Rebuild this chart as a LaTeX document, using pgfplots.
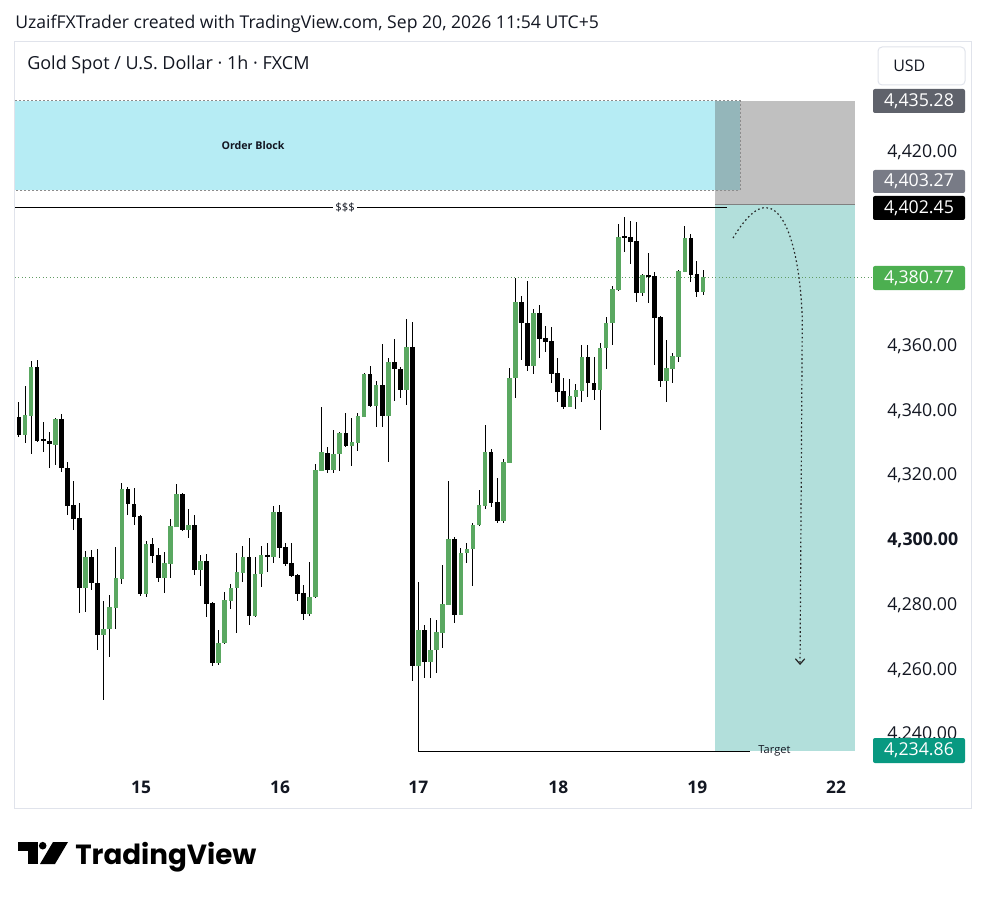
\documentclass[border=0pt]{standalone}
\usepackage{fontspec}
\setmainfont{Open Sans}
\newfontfamily\logofont{Poppins}
\usepackage{pgfplots}
\pgfplotsset{compat=1.18}
\usepackage{pgfplotstable}
\usetikzlibrary{arrows.meta}

\definecolor{cgreen}{RGB}{90,168,97}
\definecolor{obcyan}{RGB}{182,236,244}
\definecolor{tgteal}{RGB}{178,223,219}
\definecolor{stopgray}{RGB}{192,192,192}
\definecolor{overlapc}{RGB}{148,182,186}
\definecolor{tvtext}{RGB}{19,23,34}
\definecolor{lbldark}{RGB}{95,98,107}
\definecolor{lblgray}{RGB}{120,123,134}
\definecolor{lblgreen}{RGB}{76,175,80}
\definecolor{lblteal}{RGB}{8,153,129}
\definecolor{framec}{RGB}{224,227,235}

\pgfplotstableread{
i o h l c
1 4337.6 4342.2 4331.2 4331.9
2 4331.9 4347.0 4329.3 4338.1
3 4337.9 4354.8 4325.9 4353.0
4 4353.0 4355.1 4329.8 4330.1
5 4330.6 4336.0 4326.8 4330.1
6 4330.1 4332.9 4321.6 4329.0
7 4328.8 4337.3 4322.6 4336.9
8 4336.9 4338.3 4320.6 4321.6
9 4321.6 4323.7 4307.2 4310.0
10 4310.2 4317.7 4302.5 4306.1
11 4306.1 4311.0 4276.9 4284.7
12 4284.7 4296.0 4277.3 4294.1
13 4294.1 4296.3 4284.0 4286.3
14 4286.3 4296.8 4265.4 4270.1
15 4270.1 4280.7 4250.0 4271.8
16 4271.8 4282.4 4263.3 4278.8
17 4278.5 4297.4 4272.1 4287.6
18 4287.3 4317.0 4286.0 4315.2
19 4315.2 4315.9 4307.2 4310.5
20 4310.6 4315.4 4304.1 4306.7
21 4306.9 4307.2 4282.1 4282.7
22 4282.7 4299.1 4281.9 4298.2
23 4298.2 4300.0 4292.3 4294.6
24 4294.8 4296.9 4286.6 4287.6
25 4287.6 4295.8 4283.0 4292.2
26 4292.0 4305.8 4287.6 4303.8
27 4303.6 4316.8 4303.4 4313.7
28 4313.7 4313.9 4302.3 4302.5
29 4302.5 4308.9 4300.0 4304.1
30 4304.1 4307.2 4288.6 4290.2
31 4290.2 4294.8 4285.2 4293.1
32 4293.1 4295.0 4275.7 4279.7
33 4280.1 4280.2 4260.6 4261.3
34 4261.3 4271.6 4260.8 4267.7
35 4267.5 4283.3 4267.3 4280.9
36 4280.7 4286.0 4278.0 4284.7
37 4284.5 4295.3 4270.6 4289.7
38 4289.3 4297.6 4286.6 4294.3
39 4294.3 4300.2 4273.2 4275.9
40 4275.9 4294.3 4275.7 4288.9
41 4288.8 4297.6 4285.0 4294.8
42 4294.8 4298.4 4289.7 4294.4
43 4294.3 4310.0 4292.4 4308.0
44 4308.0 4310.3 4293.8 4297.1
45 4297.2 4298.4 4291.4 4292.0
46 4292.2 4298.4 4287.9 4288.3
47 4288.6 4288.8 4280.6 4282.8
48 4283.0 4285.5 4274.7 4276.6
49 4276.6 4292.7 4275.9 4281.7
50 4281.7 4323.0 4281.4 4321.1
51 4320.9 4340.7 4320.9 4326.5
52 4326.5 4328.1 4320.3 4321.1
53 4321.1 4333.4 4320.3 4326.0
54 4325.9 4332.7 4320.9 4332.4
55 4332.6 4338.8 4328.1 4328.6
56 4328.6 4337.3 4322.3 4329.8
57 4329.5 4338.8 4327.0 4337.8
58 4337.6 4351.2 4337.4 4350.7
59 4350.7 4353.2 4340.7 4340.9
60 4340.9 4348.7 4334.3 4347.4
61 4347.4 4360.0 4334.5 4337.8
62 4337.8 4355.6 4323.6 4354.6
63 4354.6 4361.5 4342.5 4352.2
64 4352.2 4352.8 4343.5 4345.8
65 4345.8 4367.7 4341.2 4359.2
66 4359.2 4366.9 4255.9 4260.5
67 4260.5 4286.6 4256.0 4271.6
68 4271.6 4273.2 4256.7 4261.8
69 4261.8 4275.2 4256.7 4265.6
70 4265.5 4274.7 4258.2 4271.1
71 4270.8 4291.7 4266.0 4279.7
72 4279.4 4317.8 4279.4 4299.9
73 4299.9 4300.5 4273.7 4276.3
74 4276.3 4296.9 4276.3 4295.3
75 4295.3 4298.4 4292.4 4296.7
76 4296.6 4304.6 4285.2 4304.1
77 4304.1 4314.9 4303.8 4310.3
78 4310.0 4335.0 4308.9 4326.8
79 4326.8 4327.5 4309.8 4311.0
80 4311.3 4318.5 4304.6 4305.4
81 4305.4 4324.4 4304.6 4323.5
82 4323.4 4352.5 4323.2 4349.6
83 4349.4 4380.3 4343.2 4373.1
84 4373.1 4374.9 4355.1 4366.4
85 4366.6 4379.6 4351.8 4353.2
86 4353.2 4370.8 4350.8 4369.7
87 4369.7 4372.1 4355.6 4361.6
88 4361.8 4365.6 4357.7 4360.8
89 4361.1 4365.2 4348.1 4350.8
90 4351.0 4355.6 4342.2 4345.3
91 4345.6 4349.4 4340.1 4340.7
92 4340.7 4349.1 4340.7 4343.9
93 4343.8 4347.6 4339.8 4345.8
94 4345.6 4359.7 4342.2 4355.9
95 4355.9 4359.7 4343.8 4347.9
96 4347.9 4356.1 4342.7 4345.8
97 4345.8 4360.2 4333.5 4358.7
98 4358.7 4368.5 4352.2 4366.4
99 4366.4 4377.9 4359.7 4377.0
100 4376.7 4397.1 4376.5 4393.2
101 4393.2 4399.4 4388.6 4393.0
102 4393.2 4398.2 4384.8 4391.7
103 4391.9 4397.6 4373.1 4375.9
104 4375.9 4381.7 4374.9 4381.3
105 4381.3 4388.1 4372.6 4381.1
106 4381.0 4382.4 4353.5 4368.2
107 4368.5 4368.7 4346.8 4348.7
108 4348.7 4361.3 4342.2 4352.5
109 4352.2 4357.1 4347.9 4356.3
110 4356.1 4382.9 4354.6 4382.7
111 4382.4 4396.5 4382.4 4392.9
112 4392.9 4394.0 4379.3 4381.3
113 4381.7 4385.8 4374.7 4376.2
114 4376.2 4382.9 4375.2 4380.77
}\candles

\begin{document}
\begin{tikzpicture}
\useasboundingbox (0,0) rectangle (740.25pt,-673.5pt);
\fill[white] (0,0) rectangle (740.25pt,-673.5pt);
\begin{scope}[x=0.75pt,y=-0.75pt]
  \draw[framec, line width=0.75pt] (14,42) rectangle (971,808);
  \node[anchor=base west, inner sep=0pt, text=tvtext, font=\fontsize{13.2}{14}\selectfont] at (15,29) {UzaifFXTrader created with TradingView.com, Sep 20, 2026 11:54 UTC+5};
\end{scope}
\begin{axis}[
  at={(11.25pt,-577.5pt)}, anchor=south west,
  scale only axis, width=642.75pt, height=546pt,
  xmin=0.34, xmax=141.92, ymin=4228.35, ymax=4453.38,
  axis line style={draw=none}, tick style={draw=none}, major tick length=0pt,
  xtick={21.16,44.13,66.97,90.10,113.06,135.97},
  xticklabels={15,16,17,18,19,22},
  xticklabel style={anchor=center, yshift=-12.75pt, text=tvtext, font=\fontsize{13}{13}\selectfont\bfseries},
  ytick={4240,4260,4280,4300,4320,4340,4360,4420},
  yticklabels={{4,240.00},{4,260.00},{4,280.00},{\textbf{4,300.00}},{4,320.00},{4,340.00},{4,360.00},{4,420.00}},
  yticklabel pos=right,
  yticklabel style={anchor=west, inner sep=0pt, xshift=11.25pt, yshift=-1.6pt, text=tvtext, font=\fontsize{13.3}{13.3}\selectfont},
]
% order block
\fill[obcyan] (axis cs:0.34,4407.6) rectangle (axis cs:120.1,4435.28);
% stop zone and target zone
\fill[stopgray] (axis cs:115.99,4403.27) rectangle (axis cs:139.11,4435.28);
\fill[overlapc] (axis cs:115.99,4407.6) rectangle (axis cs:120.1,4435.28);
\fill[tgteal] (axis cs:115.99,4234.2) rectangle (axis cs:139.11,4403.27);
\draw[black!45, dash pattern=on 1.5pt off 1.5pt, line width=0.5pt] (axis cs:0.34,4435.28) -- (axis cs:120.1,4435.28) -- (axis cs:120.1,4407.6) -- (axis cs:0.34,4407.6);
\draw[black!50, line width=0.75pt] (axis cs:115.99,4403.27) -- (axis cs:139.11,4403.27);
\node[font=\fontsize{8}{9}\selectfont\bfseries, text=tvtext] at (axis cs:39.66,4421.3) {Order Block};
% liquidity line
\draw[black, line width=0.75pt] (axis cs:0.34,4402.3) -- (axis cs:117.9,4402.3);
\node[fill=white, inner sep=1.5pt, font=\fontsize{8.5}{9}\selectfont, text=tvtext] at (axis cs:54.86,4402.3) {\$\$\$};
% current price line
\draw[lblgreen!60!gray, dotted, line width=0.6pt] (axis cs:0.34,4380.77) -- (axis cs:141.92,4380.77);
% target line
\draw[black, line width=0.75pt] (axis cs:66.97,4258) -- (axis cs:66.97,4234.2) -- (axis cs:121.77,4234.2);
\node[font=\fontsize{8.3}{9}\selectfont, text=tvtext] at (axis cs:125.8,4234.2) {Target};
% wicks
\addplot[draw=none, mark=none, forget plot, error bars/.cd, y dir=both, y explicit, error mark=none,
  error bar style={line width=0.75pt, black}]
  table[x=i, y expr={(\thisrow{h}+\thisrow{l})/2}, y error expr={(\thisrow{h}-\thisrow{l})/2}] {\candles};
% bullish bodies
\addplot[draw=none, mark=none, forget plot, restrict expr to domain={\thisrow{c}-\thisrow{o}}{0.0001:1000},
  error bars/.cd, y dir=both, y explicit, error mark=none,
  error bar style={line width=3.5pt, cgreen}]
  table[x=i, y expr={(\thisrow{o}+\thisrow{c})/2}, y error expr={max(abs(\thisrow{c}-\thisrow{o})/2,0.3)}] {\candles};
% bearish bodies
\addplot[draw=none, mark=none, forget plot, restrict expr to domain={\thisrow{c}-\thisrow{o}}{-1000:0},
  error bars/.cd, y dir=both, y explicit, error mark=none,
  error bar style={line width=3.5pt, black}]
  table[x=i, y expr={(\thisrow{o}+\thisrow{c})/2}, y error expr={max(abs(\thisrow{c}-\thisrow{o})/2,0.3)}] {\candles};
% projected path
\draw[black!85, line width=0.9pt, dash pattern=on 1.2pt off 2pt, -{Straight Barb[length=4pt,width=7pt]}]
  (axis cs:118.96,4392.80) .. controls (axis cs:120.94,4398.98) and (axis cs:123.09,4403.00) .. (axis cs:124.74,4402.07)
  .. controls (axis cs:127.55,4401.45) and (axis cs:130.03,4389.09) .. (axis cs:130.40,4367.45) -- (axis cs:130.03,4260.80);
\end{axis}
\begin{scope}[x=0.75pt,y=-0.75pt]
  \node[anchor=base west, inner sep=0pt, text=tvtext, font=\fontsize{13.5}{14}\selectfont] at (27,70) {Gold Spot / U.S. Dollar · 1h · FXCM};
  \draw[framec, fill=white, rounded corners=3pt, line width=0.75pt] (878,47) rectangle (965,85);
  \node[anchor=base west, inner sep=0pt, text=tvtext, font=\fontsize{12}{12}\selectfont] at (893,72) {USD};
  \tikzset{plabel/.style={anchor=center, inner sep=0pt, text=white, font=\fontsize{13.3}{13.3}\selectfont}}
  \fill[lbldark, rounded corners=1.5pt] (873,89) rectangle (965,113);
  \node[plabel] at (919,101) {4,435.28};
  \fill[lblgray, rounded corners=1.5pt] (873,170) rectangle (965,193);
  \node[plabel] at (919,181.5) {4,403.27};
  \fill[black, rounded corners=1.5pt] (873,196) rectangle (965,220);
  \node[plabel] at (919,208) {4,402.45};
  \fill[lblgreen, rounded corners=1.5pt] (873,266) rectangle (965,290);
  \node[plabel] at (919,278) {4,380.77};
  \fill[lblteal, rounded corners=1.5pt] (873,738) rectangle (965,763);
  \node[plabel] at (919,750.5) {4,234.86};
  % TradingView logo
  \fill[black] (18,842) rectangle (38,851);
  \fill[black] (28,842) rectangle (38,864);
  \fill[black] (42.7,845.7) circle (3.8);
  \fill[black] (53,842) -- (68,842) -- (55,864) -- (40,864) -- cycle;
  \node[anchor=base west, inner sep=0pt, font=\logofont\bfseries\fontsize{20.8}{22}\selectfont] at (75,864) {TradingView};
\end{scope}
\end{tikzpicture}
\end{document}
